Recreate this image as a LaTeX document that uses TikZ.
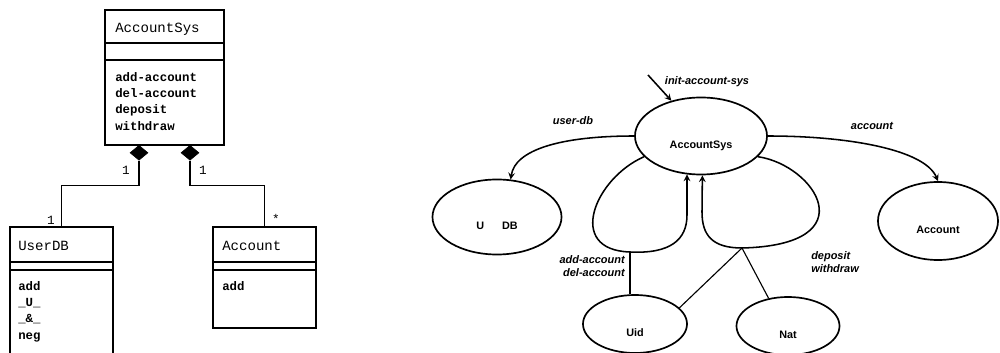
\documentclass[tikz,border=0pt]{standalone}
\usepackage{fontspec}
\setsansfont{Liberation Sans}
\setmonofont{Liberation Mono}
\usetikzlibrary{shapes.geometric}

\begin{document}
\begin{tikzpicture}[x=0.025cm, y=-0.025cm,
    classbox/.style={draw, line width=0.8pt, inner sep=0pt},
    classname/.style={anchor=west, inner sep=0pt, font=\ttfamily\fontsize{10}{12}\selectfont},
    classops/.style={anchor=north west, align=left, inner sep=0pt, font=\ttfamily\bfseries\fontsize{8.8}{11.6}\selectfont},
    compose/.style={draw, fill, diamond, inner sep=0pt, minimum width=0.45cm, minimum height=0.375cm, anchor=north},
    mult/.style={inner sep=0pt, font=\ttfamily\fontsize{9}{11}\selectfont},
    link/.style={line width=0.8pt},
    proc/.style={draw, ellipse, line width=1.2pt, inner sep=0pt, text height=18pt, text depth=0pt, font=\sffamily\bfseries\fontsize{7.7}{9}\selectfont},
    flowlbl/.style={inner sep=0pt, font=\sffamily\bfseries\itshape\fontsize{7.8}{9.3}\selectfont},
    flow/.style={line width=1.1pt, ->, >=stealth}
  ]
  \useasboundingbox (0,0) rectangle (1000,353);

  % Klassen
  \node[classbox, minimum width=2.975cm, minimum height=3.375cm] (sysbox) at (164.5,77.5) {};
  \node[classname] (sysname) at (115,29) {AccountSys};
  \draw[link] (105,43) -- (224,43) (105,60) -- (224,60);
  \node[classops] (sysops) at (115,72) {add-account\\del-account\\deposit\\withdraw};

  \node[classbox, minimum width=2.575cm, minimum height=3.4cm] (userbox) at (61.5,295) {};
  \node[classname] (username) at (18,246) {UserDB};
  \draw[link] (10,262) -- (113,262) (10,270) -- (113,270);
  \node[classops] (userops) at (18,281) {add\\\_U\_\\\_\&\_\\neg};

  \node[classbox, minimum width=2.575cm, minimum height=2.525cm] (accbox) at (264.5,277.5) {};
  \node[classname] (accname) at (222,246) {Account};
  \draw[link] (213,262) -- (316,262) (213,270) -- (316,270);
  \node[classops] (accops) at (222,281) {add};

  % Komposition
  \node[compose] (sysdia1) at (139,145) {};
  \node[compose] (sysdia2) at (190,145) {};
  \draw[link] (sysdia1.south) -- ++(0,25) -| (userbox.north);
  \draw[link] (sysdia2.south) -- ++(0,25) -| (accbox.north);
  \node[mult] (mult1) at (126,170) {1};
  \node[mult] (mult2) at (203,170) {1};
  \node[mult] (mult3) at (51,220) {1};
  \node[mult] (mult4) at (276,219) {*};

  % Prozesse
  \node[proc, minimum width=3.3cm, minimum height=1.925cm] (sysproc) at (701,136) {AccountSys};
  \node[proc, minimum width=3.225cm, minimum height=1.875cm] (userproc) at (497,217) {U\hspace{0.45cm}DB};
  \node[proc, minimum width=3cm, minimum height=1.95cm] (accproc) at (938,221) {Account};
  \node[proc, minimum width=2.6cm, minimum height=1.45cm] (uidproc) at (635,324) {Uid};
  \node[proc, minimum width=2.575cm, minimum height=1.45cm] (natproc) at (788,326) {Nat};

  % Datenfluss
  \coordinate (initsrc) at (648,75);
  \coordinate (addloop) at (630,252);
  \coordinate (deploop) at (742,248);
  \draw[flow] (initsrc) -- (sysproc.130);
  \draw[flow] (sysproc.west) .. controls (560,136) and (515,150) .. (userproc.70);
  \draw[flow] (sysproc.east) .. controls (850,136) and (925,150) .. (accproc.north);
  \draw[flow] (sysproc.200) .. controls (595,178) and (565,250) .. (addloop)
    .. controls (670,254) and (687,240) .. (687,215) -- (sysproc.250);
  \draw[flow] (sysproc.340) .. controls (815,165) and (868,245) .. (deploop)
    .. controls (712,248) and (702,235) .. (702,212) -- (sysproc.272);
  \draw[link] (addloop) -- (addloop |- uidproc.north);
  \draw[link] (deploop) -- (uidproc.20);
  \draw[link] (deploop) -- (natproc.125);

  \node[flowlbl] (initlbl) at (707,82) {init-account-sys};
  \node[flowlbl] (userlbl) at (573,121) {user-db};
  \node[flowlbl] (acclbl) at (872,126) {account};
  \node[flowlbl, align=right, anchor=east] (addlbl) at (625,266) {add-account\\del-account};
  \node[flowlbl, align=left, anchor=west] (deplbl) at (811,262) {deposit\\withdraw};
\end{tikzpicture}
\end{document}
